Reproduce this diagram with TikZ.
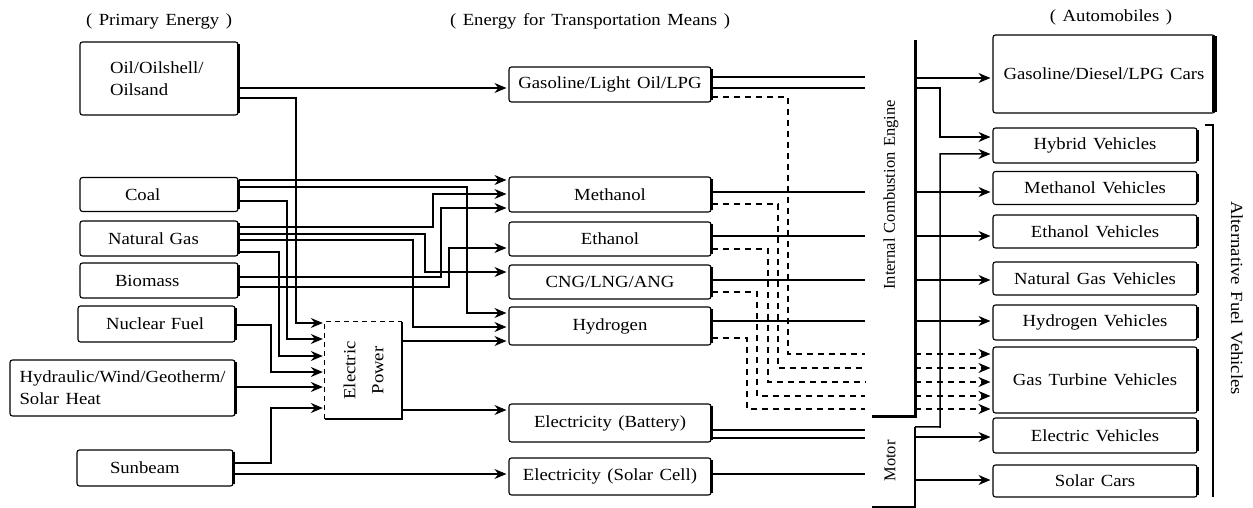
\documentclass[tikz,border=0pt]{standalone}
\usepackage{fontspec}
\setmainfont{Liberation Serif}[FakeStretch=1.1, WordSpace=1.4]
\newfontfamily\narrowfont{Liberation Serif}[WordSpace=1.3]
\usetikzlibrary{arrows.meta}
\newcommand\fsz{\fontsize{17}{22}\selectfont}
\newcommand\fszn{\narrowfont\fontsize{16.5}{22}\selectfont}
\begin{document}
\begin{tikzpicture}[x=1pt,y=-1pt,
 box/.style={draw, rounded corners=2.5pt, line width=1.1pt, inner sep=0pt, font=\fsz, align=center},
 lbox/.style={box, align=left, inner xsep=#1, inner ysep=0pt},
 lbl/.style={font=\fsz, inner sep=0pt},
 ln/.style={line width=1.5pt},
 arr/.style={line width=1.5pt, -{Stealth[length=12pt,width=10pt,inset=4pt]}, shorten >=2pt},
 dsh/.style={line width=2pt, dash pattern=on 6pt off 5pt},
 darr/.style={dsh, -{Stealth[length=12pt,width=10pt,inset=4pt]}, shorten >=2pt},
]
\useasboundingbox (0,0) rectangle (1253,508);
\fill[white] (0,0) rectangle (1253,508);

% headings
\node[lbl] (h1) at (159,21) {( Primary Energy )};
\node[lbl] (h2) at (590,21) {( Energy for Transportation Means )};
\node[lbl] (h3) at (1111,17) {( Automobiles )};

% primary energy
\node[lbox=30pt, text width=98pt, minimum height=73pt] (oil) at (159,78.5) {Oil/Oilshell/\\Oilsand};
\node[lbox=45pt, text width=68pt, minimum height=34pt] (coal) at (159,194.5) {Coal};
\node[lbox=28pt, text width=102pt, minimum height=35pt] (ng) at (159,238.5) {Natural Gas};
\node[lbox=35pt, text width=88pt, minimum height=35pt] (bio) at (159,280.5) {Biomass};
\node[lbox=28pt, text width=101pt, minimum height=36pt] (nuc) at (156.5,324) {Nuclear Fuel};
\node[box, minimum width=225pt, minimum height=56pt, align=left] (hyd) at (122.5,388) {Hydraulic/Wind/Geotherm/\\Solar Heat};
\node[lbox=33pt, text width=90pt, minimum height=36pt] (sun) at (155,468) {Sunbeam};

% electric power
\node[minimum width=77pt, minimum height=97pt, inner sep=0pt] (ep) at (363.5,370.5) {};
\draw[line width=1.2pt, dash pattern=on 5pt off 4pt] (ep.south west) -- (ep.north west) -- (ep.north east);
\draw[line width=1.5pt] (ep.north east) -- (ep.south east) -- (ep.south west);
\node[rotate=90, align=center, inner sep=0pt, font=\fontsize{17}{28}\selectfont] (eplbl) at (ep.center) {Electric\\Power};

% energy for transportation
\node[box, minimum width=202pt, minimum height=35pt] (gas) at (610,84.5) {Gasoline/Light Oil/LPG};
\node[box, minimum width=202pt, minimum height=35pt] (meth) at (610,194.5) {Methanol};
\node[box, minimum width=202pt, minimum height=34pt] (eth) at (610,239) {Ethanol};
\node[box, minimum width=202pt, minimum height=34pt] (cng) at (610,282) {CNG/LNG/ANG};
\node[box, minimum width=202pt, minimum height=38pt] (hydg) at (610,326) {Hydrogen};
\node[box, minimum width=202pt, minimum height=38pt] (batt) at (610,423) {Electricity (Battery)};
\node[box, minimum width=202pt, minimum height=37pt] (solar) at (610,476.5) {Electricity (Solar Cell)};

% engine and motor
\node[minimum width=50pt, minimum height=376pt, inner sep=0pt] (eng) at (890,228) {};
\node[minimum width=50pt, minimum height=80pt, inner sep=0pt] (motor) at (890,467) {};
\draw[line width=3pt] (eng.north east) -- (eng.south east) -- ([xshift=7pt]eng.south west);
\draw[line width=2pt] (motor.north east) -- (motor.south east) -- ([xshift=7pt]motor.south west);
\node[inner sep=0pt, font=\fszn, rotate=90] (englbl) at (891,195) {Internal Combustion Engine};
\node[inner sep=0pt, font=\fszn, rotate=90] (motlbl) at (890,461) {Motor};

% automobiles
\node[box, minimum width=222pt, minimum height=78pt] (cars) at (1104,74) {Gasoline/Diesel/LPG Cars};
\node[box, minimum width=204pt, minimum height=35pt] (hyb) at (1095,145.5) {Hybrid Vehicles};
\node[box, minimum width=204pt, minimum height=33pt] (methv) at (1095,188) {Methanol Vehicles};
\node[box, minimum width=204pt, minimum height=33pt] (ethv) at (1095,231.5) {Ethanol Vehicles};
\node[box, minimum width=204pt, minimum height=33pt] (ngv) at (1095,278.5) {Natural Gas Vehicles};
\node[box, minimum width=204pt, minimum height=35pt] (hydv) at (1095,322.5) {Hydrogen Vehicles};
\node[box, minimum width=204pt, minimum height=66pt] (gtv) at (1095,380) {Gas Turbine Vehicles};
\node[box, minimum width=204pt, minimum height=35pt] (ev) at (1095,435.5) {Electric Vehicles};
\node[box, minimum width=204pt, minimum height=32pt] (sc) at (1095,481) {Solar Cars};
\node[lbl, rotate=-90] (afv) at (1237,298) {Alternative Fuel Vehicles};
\draw[line width=2pt] (1205,125) -- (1213,125) -- (1213,497);

% thick right edges
\foreach \n in {oil,coal,ng,bio,nuc,hyd,sun,gas,meth,eth,cng,hydg,batt,solar,hyb,methv,ethv,ngv,hydv,gtv,ev,sc}
  \draw[line width=2.4pt] ([yshift=-3pt]\n.north east) -- ([yshift=3pt]\n.south east);
\draw[line width=5pt] ([xshift=-1pt,yshift=-2pt]cars.north east) -- ([xshift=-1pt,yshift=2pt]cars.south east);

% primary -> transportation
\draw[arr] (oil.east |- 0,88) -- (gas.west |- 0,88);
\draw[arr] (oil.east |- 0,98) -- (296,98) -- (296,323) -- (ep.west |- 0,323);
\draw[arr] (coal.east |- 0,180) -- (meth.west |- 0,180);
\draw[arr] (coal.east |- 0,187) -- (467,187) -- (467,313) -- (hydg.west |- 0,313);
\draw[arr] (coal.east |- 0,201) -- (287,201) -- (287,339) -- (ep.west |- 0,339);
\draw[arr] (ng.east |- 0,227) -- (433,227) -- (433,194) -- (meth.west |- 0,194);
\draw[arr] (ng.east |- 0,234) -- (425,234) -- (425,272) -- (cng.west |- 0,272);
\draw[arr] (ng.east |- 0,240) -- (413,240) -- (413,327) -- (hydg.west |- 0,327);
\draw[arr] (ng.east |- 0,252) -- (279,252) -- (279,356) -- (ep.west |- 0,356);
\draw[arr] (bio.east |- 0,277) -- (441,277) -- (441,208) -- (meth.west |- 0,208);
\draw[arr] (bio.east |- 0,287) -- (449,287) -- (449,248) -- (eth.west |- 0,248);
\draw[arr] (nuc.east |- 0,325) -- (271,325) -- (271,372) -- (ep.west |- 0,372);
\draw[arr] (hyd.east |- 0,387) -- (ep.west |- 0,387);
\draw[arr] (sun.east |- 0,463) -- (271,463) -- (271,408) -- (ep.west |- 0,408);
\draw[arr] (sun.east |- 0,474) -- (solar.west |- 0,474);
\draw[arr] (ep.east |- 0,341) -- (hydg.west |- 0,341);
\draw[arr] (ep.east |- 0,410) -- (batt.west |- 0,410);

% transportation -> engine / motor
\draw[ln] (gas.east |- 0,77) -- (eng.west |- 0,77);
\draw[ln] (gas.east |- 0,88) -- (eng.west |- 0,88);
\draw[ln] (meth.east |- 0,192) -- (eng.west |- 0,192);
\draw[ln] (eth.east |- 0,236) -- (eng.west |- 0,236);
\draw[ln] (cng.east |- 0,280) -- (eng.west |- 0,280);
\draw[ln] (hydg.east |- 0,321) -- (eng.west |- 0,321);
\draw[dsh] (gas.east |- 0,97) -- (788,97) -- (788,354) -- (eng.west |- 0,354);
\draw[dsh] (meth.east |- 0,204) -- (778,204) -- (778,368) -- (eng.west |- 0,368);
\draw[dsh] (eth.east |- 0,249) -- (768,249) -- (768,382) -- (eng.west |- 0,382);
\draw[dsh] (cng.east |- 0,292) -- (757,292) -- (757,396) -- (eng.west |- 0,396);
\draw[dsh] (hydg.east |- 0,338) -- (747,338) -- (747,409) -- (eng.west |- 0,409);
\draw[ln] (batt.east |- 0,430) -- (motor.west |- 0,430);
\draw[ln] (batt.east |- 0,438) -- (motor.west |- 0,438);
\draw[ln] (solar.east |- 0,474) -- (motor.west |- 0,474);

% engine / motor -> automobiles
\draw[arr] (eng.east |- 0,78) -- (cars.west |- 0,78);
\draw[arr] (eng.east |- 0,88) -- (940,88) -- (940,137) -- (hyb.west |- 0,137);
\draw[arr] (motor.north east) -- (940,427) -- (940,154) -- (hyb.west |- 0,154);
\draw[arr] (eng.east |- 0,192) -- (methv.west |- 0,192);
\draw[arr] (eng.east |- 0,236) -- (ethv.west |- 0,236);
\draw[arr] (eng.east |- 0,280) -- (ngv.west |- 0,280);
\draw[arr] (eng.east |- 0,321) -- (hydv.west |- 0,321);
\draw[darr] (eng.east |- 0,354) -- (gtv.west |- 0,354);
\draw[darr] (eng.east |- 0,368) -- (gtv.west |- 0,368);
\draw[darr] (eng.east |- 0,382) -- (gtv.west |- 0,382);
\draw[darr] (eng.east |- 0,396) -- (gtv.west |- 0,396);
\draw[darr] (eng.east |- 0,409) -- (gtv.west |- 0,409);
\draw[arr] (motor.east |- 0,437) -- (ev.west |- 0,437);
\draw[arr] (motor.east |- 0,480) -- (sc.west |- 0,480);
\end{tikzpicture}
\end{document}
